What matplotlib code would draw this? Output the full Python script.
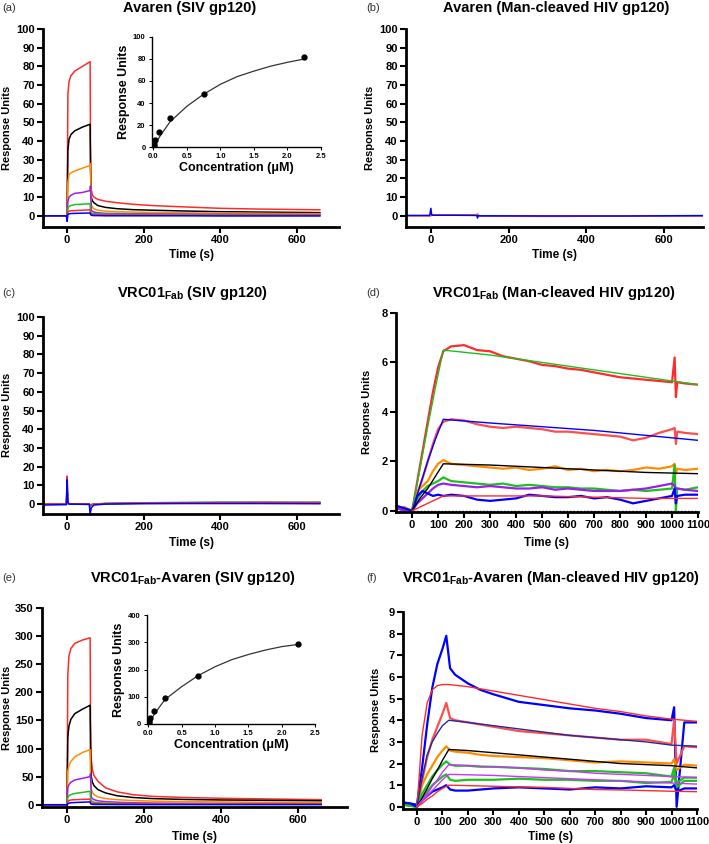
import numpy as np
import matplotlib
matplotlib.use("Agg")
import matplotlib.pyplot as plt

plt.rcParams['font.family'] = ['Liberation Sans', 'DejaVu Sans']
plt.rcParams['font.weight'] = 'bold'
plt.rcParams['mathtext.fontset'] = 'custom'
plt.rcParams['mathtext.rm'] = 'Liberation Sans:bold'
plt.rcParams['mathtext.bf'] = 'Liberation Sans:bold'
plt.rcParams['mathtext.default'] = 'bf'

RED = '#ff2a2a'
LRED = '#ff4d4d'
ORANGE = '#ff8c00'
PURPLE = '#9b1fe8'
MAGENTA = '#cc33ff'
GREEN = '#1fbf1f'
BLUE = '#0000ff'
NAVY = '#1f2a9e'

# ---- panel (a) Avaren / SIV gp120, panel (e) VRC01Fab-Avaren / SIV gp120 ----
t_siv = [-60, -2, 0, 2, 5, 10, 20, 40, 60, 61, 63, 66, 70, 80, 100, 130, 170, 220, 300, 400, 500, 660]
a_red = [0, 0, 0, 65, 72, 75, 77.5, 80, 82.5, 40, 14, 11, 10, 8.8, 7.8, 7, 6.2, 5.5, 4.8, 4, 3.6, 3.2]
a_black = [0, 0, 0, 35, 41, 43.5, 45.5, 47.5, 49, 25, 10, 8, 7, 5.5, 4.5, 3.8, 3.3, 3, 2.6, 2.2, 2, 1.7]
a_orange = [0, 0, 0, 18, 22, 23, 24, 25.5, 27, 28, 6, 4.5, 3.8, 3, 2.5, 2.2, 2, 1.8, 1.6, 1.4, 1.3, 1.1]
a_purple = [0, 0, 0, 8, 10, 11, 12, 12.5, 13.5, 16, 3, 2.4, 2, 1.6, 1.3, 1.2, 1.1, 1, 0.9, 0.8, 0.7, 0.6]
a_green = [0, 0, 0, 4, 5, 5.5, 6, 6.2, 6.5, 3, 1.5, 1.2, 1.1, 1, 0.9, 0.8, 0.8, 0.7, 0.6, 0.6, 0.5, 0.5]
a_red2 = [0, 0, 0, 2, 2.5, 2.7, 2.8, 3, 3.2, 1.5, 0.8, 0.7, 0.6, 0.5, 0.5, 0.4, 0.4, 0.4, 0.3, 0.3, 0.3, 0.3]
a_blue = [0, 0, -3, 0.8, 1, 1.2, 1.3, 1.4, 1.5, 0.8, 0.3, 0.2, 0.1, 0.1, 0, 0, 0, 0, 0, -0.1, -0.1, -0.1]

e_red = [0, 0, 0, 230, 265, 278, 287, 293, 297, 150, 80, 62, 52, 42, 30, 23, 18, 15, 13, 11.5, 10.5, 9]
e_black = [0, 0, 0, 120, 140, 152, 162, 170, 177, 90, 50, 40, 34, 27, 21, 16, 13, 11, 9.5, 8.5, 8, 7]
e_orange = [0, 0, 0, 60, 70, 77, 85, 93, 98, 50, 28, 22, 18, 14, 11, 9, 7.5, 6.5, 5.5, 5, 4.5, 4]
e_purple = [0, 0, 0, 30, 36, 40, 44, 47, 50, 55, 14, 11, 9, 7, 5.5, 4.5, 3.5, 3, 2.5, 2.2, 2, 1.8]
e_green = [0, 0, 0, 13, 16, 18, 20, 22, 24, 12, 7, 5.5, 4.5, 3.5, 3, 2.5, 2, 1.8, 1.5, 1.3, 1.2, 1]
e_red2 = [0, 0, 0, 6, 7.5, 8.5, 9, 9.5, 10, 5, 3, 2.5, 2.2, 2, 1.8, 1.6, 1.5, 1.4, 1.3, 1.2, 1.1, 1]
e_blue = [0, 0, -2, 2, 3, 3.5, 4, 4.5, 5, 2, 1, 0.8, 0.6, 0.5, 0.4, 0.3, 0.3, 0.2, 0.2, 0.2, 0.2, 0.2]

# steady-state insets
conc = [0.0031, 0.0093, 0.028, 0.083, 0.25, 0.75, 2.25]
a_ss = [1, 2.5, 6.5, 13.3, 26.8, 48.5, 81.9]
e_ss = [3, 10, 22, 48, 97, 177, 295]
conc_fit = [0, 0.1, 0.25, 0.5, 0.75, 1.0, 1.25, 1.5, 1.75, 2.0, 2.25]
a_ss_fit = [0, 10, 23, 37, 48, 57, 64, 69, 73.5, 77, 80]
e_ss_fit = [0, 40, 90, 137, 178, 210, 236, 255, 271, 284, 292]

# ---- panel (b) Avaren / Man-cleaved HIV gp120 ----
t_b = [-60, -3, 0, 2, 5, 60, 118, 120, 122, 125, 300, 500, 700]
b_red = [0, 0, 0, 0.5, 0.5, 0.5, 0.4, 0.5, 0, -0.2, -0.3, -0.2, 0]
b_orange = [0, 0, 0.3, 0.6, 0.6, 0.5, 0.4, 1.2, 0.2, 0, 0, 0, 0]
b_blue = [0.2, 0.2, 4, 0.5, 0.3, 0.3, 0.2, -1.2, 0.2, 0, -0.1, -0.1, 0.1]

# ---- panel (c) VRC01Fab / SIV gp120 ----
t_c = [-60, -2, 0, 2, 5, 58, 60, 63, 70, 100, 200, 300, 400, 500, 660]
c_black = [0, 0, 8, 0.3, 0, 0, -1, -0.3, 0, 0.2, 0.5, 0.7, 0.8, 0.8, 0.8]
c_green = [0, 0, 10, 0.3, 0.1, 0, -1, -0.3, 0, 0.4, 0.7, 0.9, 1.0, 1.0, 1.0]
c_red = [0.2, 0, 15, 0.5, 0.2, 0, -1, -0.5, 0, 0.3, 0.6, 0.7, 0.8, 0.9, 0.8]
c_blue = [-0.5, -0.3, 13, 1, 0, -0.2, -5.5, -2, -0.5, 0, 0.2, 0.3, 0.3, 0.3, 0.2]

# ---- panel (d) VRC01Fab / Man-cleaved HIV gp120 ----
t_d = [-60, -30, 0, 20, 40, 60, 80, 100, 120, 150, 200, 250, 300, 350, 400, 450, 500,
       550, 600, 650, 700, 750, 800, 850, 900, 950, 1000, 1010, 1015, 1020, 1050, 1100]
d_red = [0.1, 0.05, 0, 1.2, 2.4, 3.6, 4.8, 5.8, 6.45, 6.65, 6.7, 6.5, 6.45, 6.25, 6.15, 6.05, 5.9,
         5.85, 5.75, 5.7, 5.6, 5.5, 5.4, 5.35, 5.3, 5.25, 5.2, 6.2, 4.6, 5.2, 5.15, 5.1]
d_lred = [0.15, 0.1, 0, 0.7, 1.3, 2.0, 2.7, 3.3, 3.6, 3.7, 3.65, 3.5, 3.4, 3.35, 3.4, 3.35, 3.3,
          3.2, 3.2, 3.15, 3.1, 3.05, 3.0, 2.85, 2.95, 3.15, 3.3, 3.35, 2.7, 3.2, 3.15, 3.1]
d_orange = [0.1, 0.15, 0, 0.8, 1.0, 1.2, 1.6, 1.9, 2.05, 1.9, 1.85, 1.8, 1.75, 1.7, 1.75, 1.65, 1.7,
            1.8, 1.65, 1.7, 1.6, 1.65, 1.6, 1.65, 1.75, 1.7, 1.8, 1.9, 1.5, 1.7, 1.65, 1.7]
d_green = [0.1, 0.05, 0, 0.5, 0.8, 1.0, 1.1, 1.2, 1.35, 1.2, 1.15, 1.1, 1.05, 1.1, 1.0, 1.05, 1.0,
           0.95, 0.95, 0.9, 0.9, 0.85, 0.8, 0.85, 0.8, 0.85, 0.9, 1.85, 0.0, 0.9, 0.85, 0.95]
d_purple = [0.1, 0.0, 0, 0.3, 0.5, 0.7, 0.9, 1.05, 1.1, 1.05, 1.0, 0.95, 1.0, 0.95, 0.9, 0.9, 0.95,
            0.85, 0.9, 0.85, 0.8, 0.8, 0.8, 0.85, 0.9, 1.0, 1.1, 1.0, 0.9, 0.9, 0.85, 0.8]
d_blue = [0.2, 0.1, 0, 0.6, 0.8, 0.7, 0.6, 0.65, 0.6, 0.65, 0.6, 0.45, 0.4, 0.45, 0.5, 0.65, 0.6,
          0.55, 0.55, 0.6, 0.5, 0.55, 0.45, 0.3, 0.4, 0.5, 0.6, 0.9, 0.3, 0.6, 0.65, 0.65]
t_dfit = [0, 30, 60, 90, 120, 300, 500, 700, 900, 1100]
d_fit_green = [0, 1.7, 3.4, 5.0, 6.5, 6.3, 6.0, 5.7, 5.4, 5.1]
d_fit_blue = [0, 1.0, 2.0, 2.9, 3.7, 3.55, 3.4, 3.25, 3.05, 2.85]
d_fit_black = [0, 0.5, 0.9, 1.4, 1.9, 1.85, 1.75, 1.65, 1.55, 1.5]
d_fit_red = [0, 0.15, 0.3, 0.45, 0.6, 0.6, 0.6, 0.55, 0.5, 0.5]

# ---- panel (f) VRC01Fab-Avaren / Man-cleaved HIV gp120 ----
t_f = [-55, -25, 0, 20, 40, 60, 80, 100, 115, 130, 150, 200, 250, 300, 400, 500, 600,
       700, 800, 900, 1000, 1010, 1020, 1050, 1100]
f_blue = [0.2, 0.15, 0.1, 1.8, 3.8, 5.5, 6.6, 7.3, 7.9, 6.4, 6.1, 5.7, 5.4, 5.2, 4.85, 4.7, 4.55,
          4.45, 4.3, 4.1, 4.0, 4.6, 0.0, 3.9, 3.9]
f_lred = [0.1, 0.1, 0, 1.2, 2.3, 3.1, 3.7, 4.3, 4.8, 4.1, 4.0, 3.9, 3.8, 3.7, 3.5, 3.4, 3.3,
          3.2, 3.1, 3.1, 2.9, 4.0, 2.0, 2.8, 2.75]
f_orange = [0.1, 0.05, 0, 1.0, 1.5, 1.9, 2.3, 2.6, 2.8, 2.6, 2.55, 2.5, 2.4, 2.35, 2.3, 2.25, 2.15,
            2.05, 2.1, 2.05, 2.0, 2.2, 1.7, 1.95, 1.9]
f_green = [0.1, 0.05, 0, 0.6, 1.0, 1.4, 1.7, 1.95, 2.1, 1.95, 1.9, 1.9, 1.85, 1.85, 1.8, 1.75, 1.65,
           1.65, 1.6, 1.55, 1.4, 1.8, 1.1, 1.35, 1.35]
f_green2 = [0.1, 0.05, 0, 0.4, 0.7, 1.0, 1.2, 1.4, 1.5, 1.25, 1.2, 1.25, 1.25, 1.25, 1.3, 1.25, 1.25,
            1.2, 1.2, 1.1, 1.15, 1.5, 0.9, 1.2, 1.2]
f_blue2 = [0.2, 0.15, 0, 0.3, 0.5, 0.7, 0.8, 0.9, 1.0, 0.8, 0.75, 0.75, 0.8, 0.85, 0.9, 0.85, 0.8,
           0.9, 0.85, 0.95, 0.9, 1.0, 0.7, 0.85, 0.85]
t_ffit = [0, 20, 40, 60, 80, 100, 125, 200, 300, 400, 500, 600, 700, 800, 900, 1000, 1100]
f_fit_red = [0, 3.3, 4.8, 5.4, 5.6, 5.65, 5.65, 5.55, 5.35, 5.15, 4.95, 4.75, 4.55, 4.4, 4.2, 4.05, 3.95]
f_fit_navy = [0, 1.3, 2.4, 3.0, 3.4, 3.75, 4.0, 3.9, 3.75, 3.6, 3.45, 3.3, 3.2, 3.1, 3.0, 2.85, 2.8]
f_fit_black = [0, 0.4, 0.85, 1.3, 1.7, 2.15, 2.65, 2.6, 2.5, 2.4, 2.3, 2.2, 2.1, 2.0, 1.95, 1.9, 1.8]
f_fit_purple = [0, 0.3, 0.6, 0.95, 1.25, 1.6, 1.95, 1.9, 1.85, 1.8, 1.7, 1.65, 1.55, 1.5, 1.45, 1.4, 1.35]
f_fit_purple2 = [0, 0.25, 0.5, 0.75, 1.0, 1.25, 1.5, 1.48, 1.45, 1.4, 1.35, 1.3, 1.25, 1.2, 1.15, 1.1, 1.05]
f_fit_red2 = [0, 0.15, 0.35, 0.5, 0.7, 0.85, 1.0, 0.98, 0.95, 0.92, 0.9, 0.85, 0.8, 0.78, 0.75, 0.72, 0.7]

W, H = 709, 844
fig = plt.figure(figsize=(W / 100, H / 100), dpi=100)


def px_axes(l, t, r, b):
    return fig.add_axes([l / W, 1 - b / H, (r - l) / W, (b - t) / H])


def style(ax, xlim, ylim, xticks, yticks, fs=8, lw=2.0):
    ax.set_xlim(*xlim)
    ax.set_ylim(*ylim)
    ax.set_xticks(xticks)
    ax.set_yticks(yticks)
    for s in ['top', 'right']:
        ax.spines[s].set_visible(False)
    for s in ['left', 'bottom']:
        ax.spines[s].set_linewidth(lw)
    ax.tick_params(direction='out', length=4, width=lw * 0.75, labelsize=fs, pad=2)
    for lab in ax.get_xticklabels() + ax.get_yticklabels():
        lab.set_fontweight('bold')
    ax.set_facecolor('none')


def title(x, y, txt, lab, lx):
    fig.text(x / W, 1 - y / H, txt, ha='center', va='center', fontsize=10.5, fontweight='bold')
    fig.text(lx / W, 1 - y / H, lab, ha='left', va='center', fontsize=8, fontweight='normal',
             color='#333333')


def labels(ylx, yly, xlx, xly):
    fig.text(ylx / W, 1 - yly / H, 'Response Units', rotation=90, ha='center', va='center',
             fontsize=8, fontweight='bold')
    fig.text(xlx / W, 1 - xly / H, 'Time (s)', ha='center', va='center', fontsize=8.5,
             fontweight='bold')


def inset(l, t, r, b, ss, fit, ymax, yticks):
    ax = px_axes(l, t, r, b)
    ax.plot(conc_fit, fit, color='#333333', lw=0.9)
    ax.plot(conc, ss, 'o', color='black', ms=3.5)
    style(ax, (-0.02, 2.5), (0, ymax), [0, 0.5, 1.0, 1.5, 2.0, 2.5], yticks, fs=5.5, lw=1.0)
    ax.set_xticklabels(['0.0', '0.5', '1.0', '1.5', '2.0', '2.5'], fontweight='bold')
    ax.tick_params(length=2.5)
    ax.set_ylabel('Response Units', fontsize=9, fontweight='bold', labelpad=2)
    ax.set_xlabel('Concentration (μM)', fontsize=9, fontweight='bold', labelpad=1)
    ax.patch.set_visible(False)
    return ax


# (a)
ax = px_axes(43, 29, 339, 227)
for y, c in [(a_red, RED), (a_black, 'black'), (a_orange, ORANGE), (a_purple, PURPLE),
             (a_green, GREEN), (a_red2, RED), (a_blue, BLUE)]:
    ax.plot(t_siv, y, color=c, lw=1.1)
style(ax, (-63, 710), (-6, 100), [0, 200, 400, 600], range(0, 101, 10))
inset(152, 37, 321, 147, a_ss, a_ss_fit, 100, [0, 20, 40, 60, 80, 100])
title(190, 8, 'Avaren (SIV gp120)', '(a)', 2)
labels(7, 128, 191, 255)

# (b)
ax = px_axes(406, 29, 703, 227)
for y, c in [(b_red, RED), (b_orange, ORANGE), (b_blue, BLUE)]:
    ax.plot(t_b, y, color=c, lw=1.1)
style(ax, (-64, 700), (-6, 100), [0, 200, 400, 600], range(0, 101, 10))
title(556, 8, 'Avaren (Man-cleaved HIV gp120)', '(b)', 366)
labels(370, 128, 555, 255)

# (c)
ax = px_axes(43, 317, 339, 514)
for y, c in [(c_black, 'black'), (c_green, GREEN), (c_red, RED), (c_blue, BLUE)]:
    ax.plot(t_c, y, color=c, lw=1.1)
style(ax, (-63, 710), (-5.3, 100), [0, 200, 400, 600], range(0, 101, 10))
title(192, 293, 'VRC01$_{Fab}$ (SIV gp120)', '(c)', 2)
labels(7, 415, 191, 543)

# (d)
ax = px_axes(396, 313, 698, 512)
ax.axhline(0, color='black', lw=1.0, ls=(0, (1, 1.5)))
for y, c in [(d_red, RED), (d_lred, LRED), (d_orange, ORANGE), (d_green, GREEN),
             (d_purple, PURPLE), (d_blue, BLUE)]:
    ax.plot(t_d, y, color=c, lw=1.6)
for y, c in [(d_fit_green, GREEN), (d_fit_blue, BLUE), (d_fit_black, 'black'), (d_fit_red, RED)]:
    ax.plot(t_dfit, y, color=c, lw=1.0)
style(ax, (-62, 1100), (-0.05, 8), range(0, 1101, 100), [0, 2, 4, 6, 8])
title(554, 293, 'VRC01$_{Fab}$ (Man-cleaved HIV gp120)', '(d)', 366)
labels(367, 412, 547, 543)

# (e)
ax = px_axes(42, 608, 347, 807)
for y, c in [(e_red, RED), (e_black, 'black'), (e_orange, ORANGE), (e_purple, PURPLE),
             (e_green, GREEN), (e_red2, RED), (e_blue, BLUE)]:
    ax.plot(t_siv, y, color=c, lw=1.1)
style(ax, (-65, 727), (-4, 350), [0, 200, 400, 600], range(0, 351, 50))
inset(147, 615, 315, 724, e_ss, e_ss_fit, 400, [0, 100, 200, 300, 400])
title(193, 578, 'VRC01$_{Fab}$-Avaren (SIV gp120)', '(e)', 2)
labels(7, 708, 194, 837)

# (f)
ax = px_axes(403, 612, 697, 809)
for y, c in [(f_blue, BLUE), (f_lred, LRED), (f_orange, ORANGE), (f_green, GREEN),
             (f_green2, GREEN), (f_blue2, BLUE)]:
    ax.plot(t_f, y, color=c, lw=1.6)
for y, c in [(f_fit_red, RED), (f_fit_navy, NAVY), (f_fit_black, 'black'), (f_fit_purple, MAGENTA),
             (f_fit_purple2, MAGENTA), (f_fit_red2, RED)]:
    ax.plot(t_ffit, y, color=c, lw=1.0)
style(ax, (-55, 1100), (-0.1, 9), range(0, 1101, 100), range(0, 10))
title(551, 578, 'VRC01$_{Fab}$-Avaren (Man-cleaved HIV gp120)', '(f)', 366)
labels(376, 710, 550, 837)

fig.savefig('out.png', dpi=100)
